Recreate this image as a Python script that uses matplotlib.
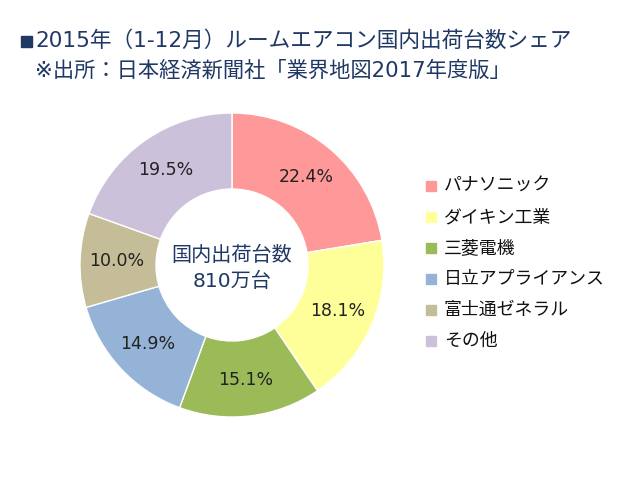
import matplotlib
matplotlib.use("Agg")
import matplotlib.pyplot as plt
from matplotlib.patches import Rectangle

plt.rcParams['font.family'] = ['DejaVu Sans', 'Noto Sans CJK JP']

labels = ["パナソニック", "ダイキン工業", "三菱電機", "日立アプライアンス", "富士通ゼネラル", "その他"]
shares = [22.4, 18.1, 15.1, 14.9, 10.0, 19.5]
colors = ["#FF9999", "#FFFF99", "#9BBB59", "#95B3D7", "#C4BD97", "#CCC1DA"]
title_line1 = "2015年（1-12月）ルームエアコン国内出荷台数シェア"
title_line2 = "※出所：日本経済新聞社「業界地図2017年度版」"
center_text = "国内出荷台数\n810万台"

navy = "#1F3864"

fig = plt.figure(figsize=(6.4, 4.8), dpi=100)
fig.patch.set_facecolor("white")

cx, cy, r = 232, 265, 152
ax = fig.add_axes([(cx - r) / 640, 1 - (cy + r) / 480, 2 * r / 640, 2 * r / 480])
wedges, texts, autotexts = ax.pie(
    shares, colors=colors, startangle=90, counterclock=False,
    autopct=lambda p: f"{p:.1f}%", pctdistance=0.76,
    wedgeprops=dict(width=0.5, edgecolor="white", linewidth=1),
    textprops=dict(fontsize=12.5, color="#222222"),
)
ax.set_aspect("equal")
ax.set_xlim(-1, 1)
ax.set_ylim(-1, 1)
ax.axis("off")
ax.text(0, -0.02, center_text, ha="center", va="center", fontsize=14.5,
        color=navy, linespacing=1.45)

# Title
fig.patches.append(Rectangle((21 / 640, 1 - 47 / 480), 11 / 640, 11 / 480,
                             transform=fig.transFigure, color=navy))
fig.text(35 / 640, 1 - 41 / 480, title_line1, fontsize=15.6, color=navy,
         va="center", ha="left")
fig.text(35 / 640, 1 - 71 / 480, title_line2, fontsize=15.3, color=navy,
         va="center", ha="left")

# Legend
y0 = 186
dy = 31
for i, (lab, col) in enumerate(zip(labels, colors)):
    y = y0 + i * dy
    fig.patches.append(Rectangle((426 / 640, 1 - (y + 5) / 480), 10 / 640, 10 / 480,
                                 transform=fig.transFigure, color=col))
    fig.text(444 / 640, 1 - y / 480, lab, fontsize=12.9, color="#111111",
             va="center", ha="left")

fig.savefig("out.png", dpi=100, facecolor="white")
